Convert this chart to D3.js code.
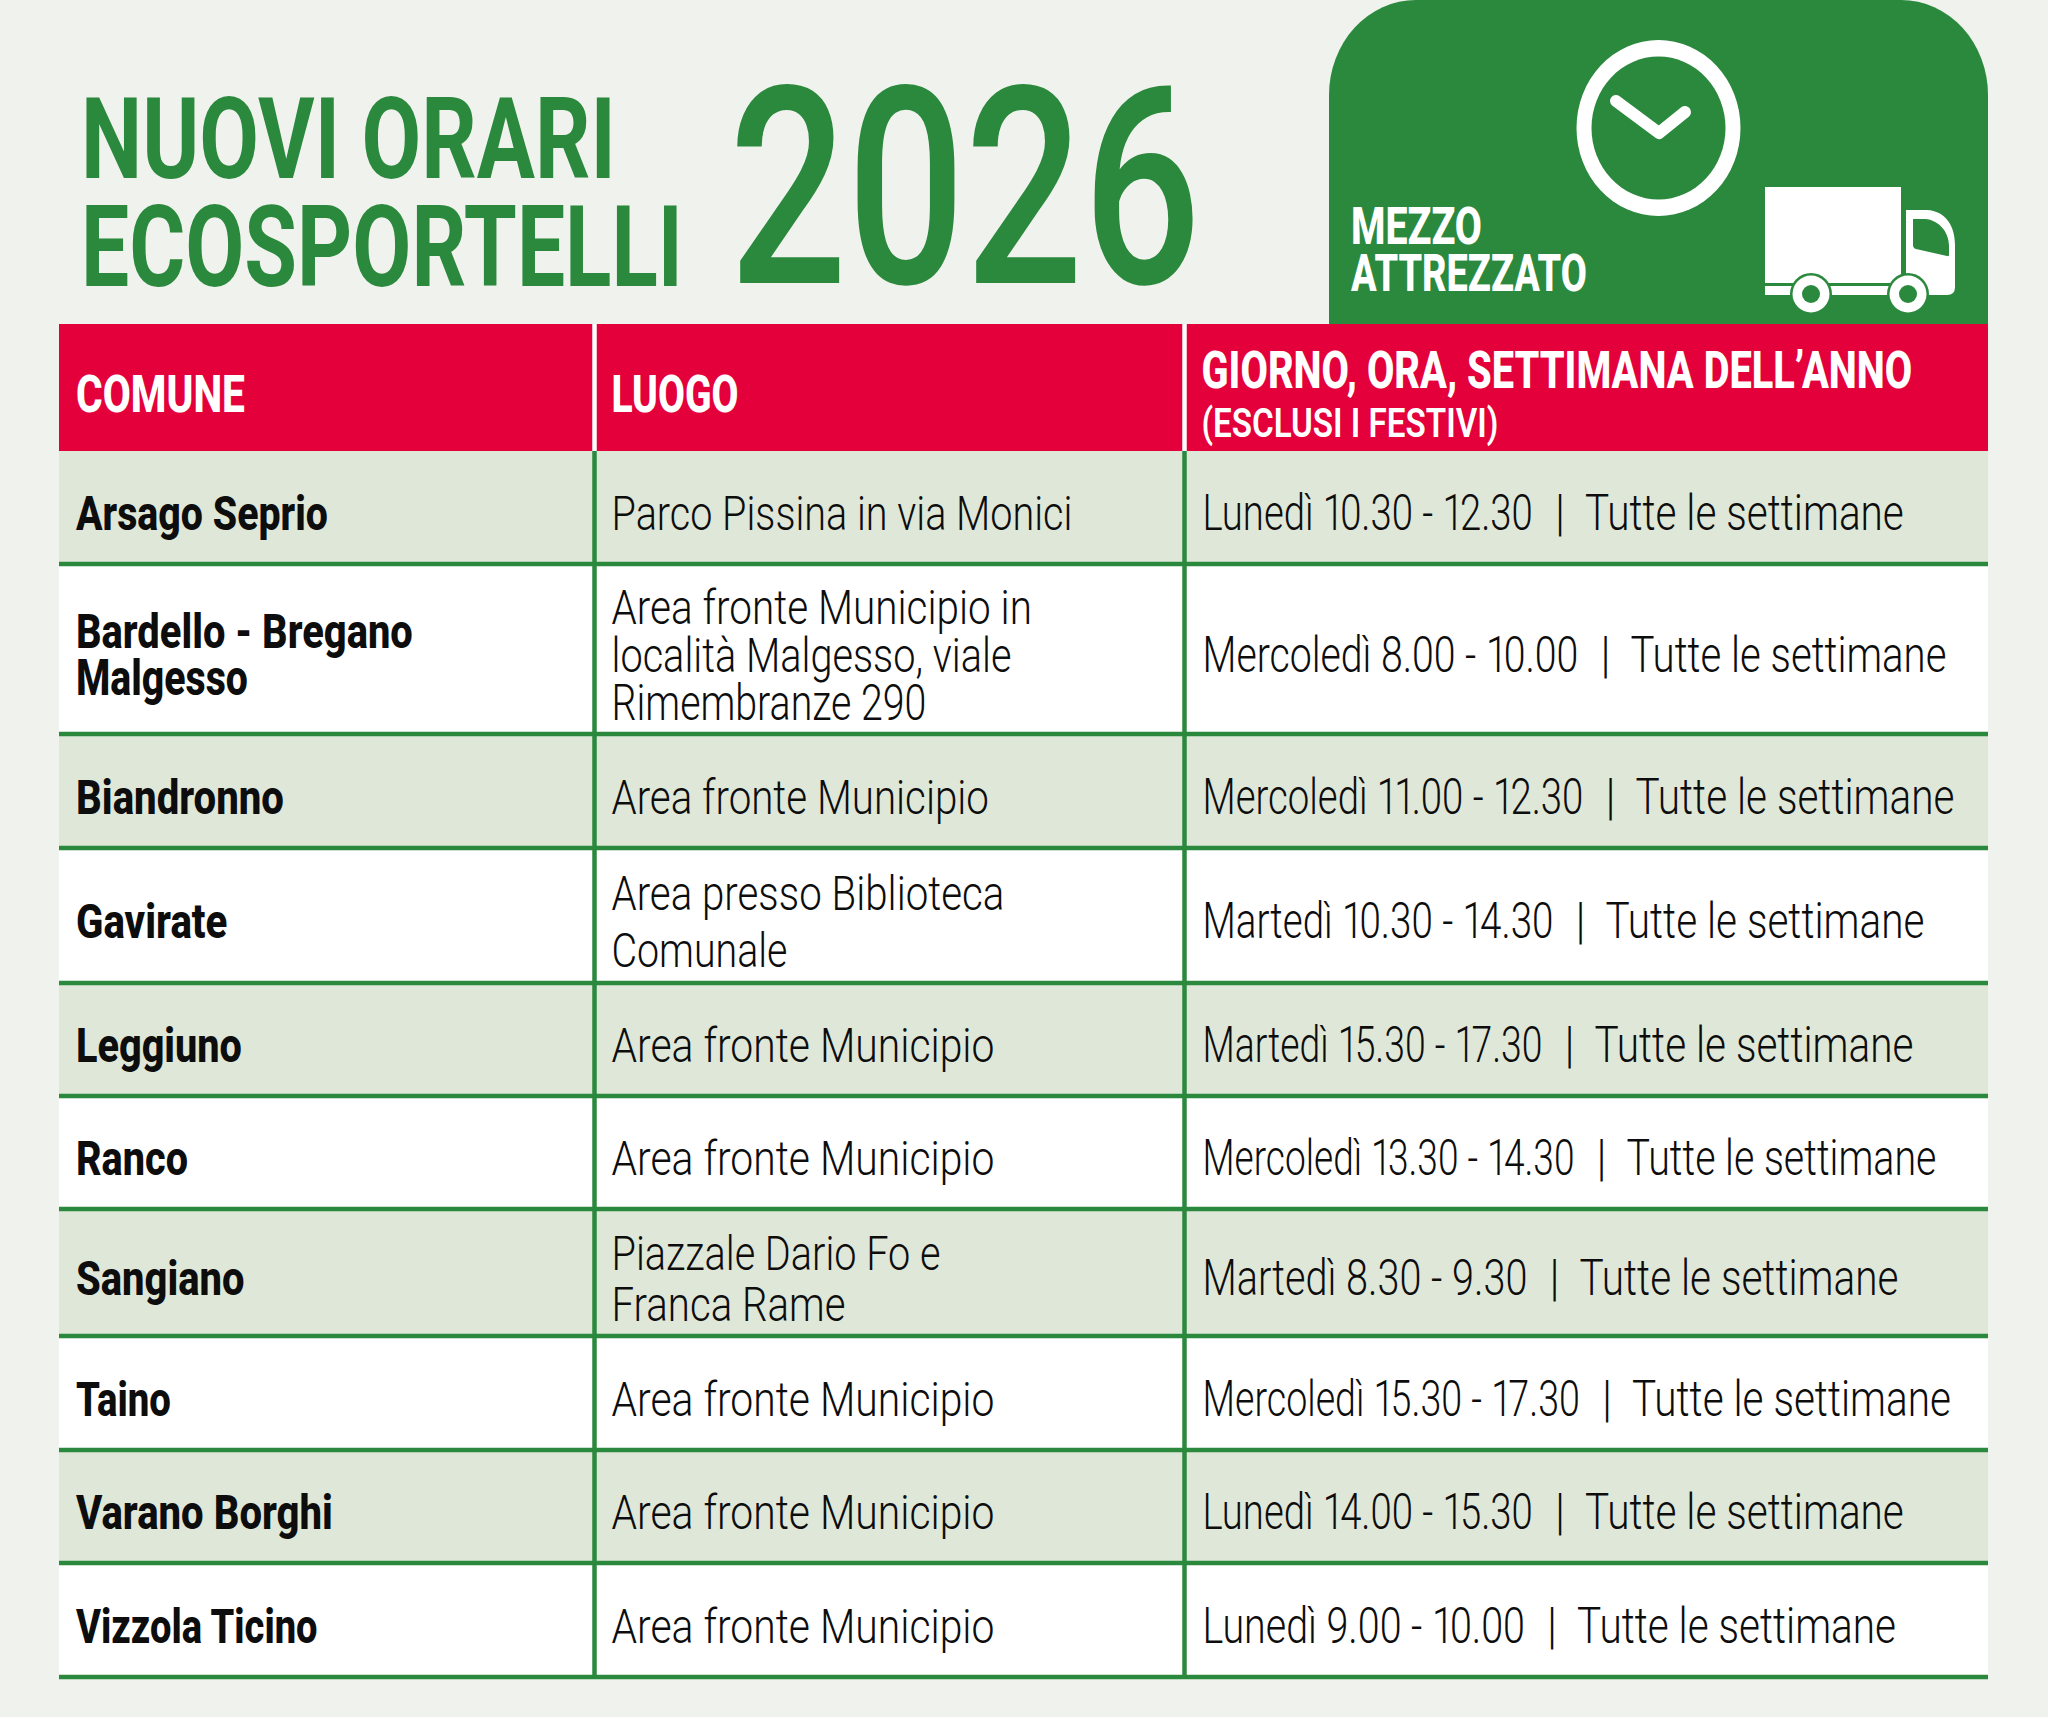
<!DOCTYPE html>
<html lang="it">
<head>
<meta charset="utf-8">
<title>Nuovi orari ecosportelli 2026</title>
<script src="https://cdn.jsdelivr.net/npm/d3@7"></script>
<style>
  html, body { margin: 0; padding: 0; background: #f0f3ed; }
  svg { display: block; }
  text { font-family: Roboto, sans-serif; white-space: pre; }
</style>
</head>
<body>
<svg id="chart"></svg>
<script>
// table content
const columns = ["COMUNE", "LUOGO", "GIORNO, ORA, SETTIMANA DELL’ANNO"];
const columnNote = "(ESCLUSI I FESTIVI)";
const comuni = ["Arsago Seprio", "Bardello - Bregano\nMalgesso", "Biandronno", "Gavirate", "Leggiuno",
    "Ranco", "Sangiano", "Taino", "Varano Borghi", "Vizzola Ticino"];
const luoghi = ["Parco Pissina in via Monici", "Area fronte Municipio in\nlocalità Malgesso, viale\nRimembranze 290",
    "Area fronte Municipio", "Area presso Biblioteca\nComunale", "Area fronte Municipio", "Area fronte Municipio",
    "Piazzale Dario Fo e\nFranca Rame", "Area fronte Municipio", "Area fronte Municipio", "Area fronte Municipio"];
const giorni = ["Lunedì", "Mercoledì", "Mercoledì", "Martedì", "Martedì", "Mercoledì", "Martedì", "Mercoledì", "Lunedì", "Lunedì"];
const ore = ["10.30 - 12.30", "8.00 - 10.00", "11.00 - 12.30", "10.30 - 14.30", "15.30 - 17.30",
    "13.30 - 14.30", "8.30 - 9.30", "15.30 - 17.30", "14.00 - 15.30", "9.00 - 10.00"];
const frequenza = "Tutte le settimane";
const titleLines = ["NUOVI ORARI", "ECOSPORTELLI"];
const year = "2026";
const badgeLines = ["MEZZO", "ATTREZZATO"];

// layout
const width = 2048, height = 1717;
const rowEdges = [451, 564, 734, 848, 983, 1096, 1209, 1336, 1450, 1563, 1677];
const columnEdges = [59, 594.5, 1184.5, 1988];
const luogoLeading = [0, 48, 0, 57, 0, 0, 51, 0, 0, 0];
// measured line widths in px, row by row, because the condensed font of the original has other proportions
const comuneWidths = [[252], [337, 172], [208], [151.5], [166], [112], [168.5], [95], [257], [241.6]];
const luogoWidths = [[461], [420.5, 400, 315], [377.5], [393, 176], [383], [383], [329, 234], [383], [383], [383]];
const orarioWidths = [330.4, 376, 381, 351, 340, 372, 325, 377.5, 330.4, 322.6];
const frequenzaWidths = [319, 316, 319, 319, 319, 310, 319, 319, 319, 319];
const green = "#2b893d", red = "#e4003a", stripe = "#dfe7d8", ink = "#0d0d0d";

const svg = d3.select("#chart").attr("width", width).attr("height", height)
    .attr("viewBox", `0 0 ${width} ${height}`);

const yRow = d3.scaleOrdinal().domain(d3.range(comuni.length)).range(rowEdges.slice(0, -1));
const rowHeight = i => rowEdges[i + 1] - rowEdges[i];
const xCol = d3.scaleOrdinal().domain(d3.range(3)).range(columnEdges.slice(0, 3));
const colPad = 17;

// writes a line, then squeezes it horizontally to the measured width
function put(parent, str, x, y, size, weight, target, fill) {
    const t = parent.append("text")
        .attr("font-size", size).attr("font-weight", weight).attr("fill", fill);
    // the digit 1 is narrow in the original, so pull the next glyph in
    str.split(/(?<=1)/).forEach((part, k) => {
        t.append("tspan").attr("dx", k ? -size * 0.1 : 0).text(part);
    });
    const sx = target / t.node().getBBox().width;
    t.attr("transform", `translate(${x},${y}) scale(${sx},1)`);
    return t;
}

// title
const title = svg.append("g");
[[titleLines[0], 178, 535], [titleLines[1], 286, 602]].forEach(([t, y, w]) => {
    put(title, t, 81, y, 114, 700, w, green);
});
const yearText = title.append("text").attr("font-size", 276).attr("font-weight", 500).attr("fill", green).text(year);
yearText.attr("transform", `translate(729,283) scale(${472 / yearText.node().getComputedTextLength()},1)`);

// green badge
const badge = svg.append("g");
badge.append("path").attr("fill", green)
    .attr("d", "M1329,326V95A87,95 0 0 1 1416,0H1901A87,95 0 0 1 1988,95V326Z");
badge.append("ellipse").attr("cx", 1658.5).attr("cy", 128).attr("rx", 82).attr("ry", 88).attr("fill", "#fff");
badge.append("ellipse").attr("cx", 1658.5).attr("cy", 128).attr("rx", 67).attr("ry", 71.5).attr("fill", green);
badge.append("path").attr("d", "M1616,101L1659,133L1685,112").attr("fill", "none")
    .attr("stroke", "#fff").attr("stroke-width", 12).attr("stroke-linecap", "round").attr("stroke-linejoin", "round");
[[badgeLines[0], 243.5, 131], [badgeLines[1], 291, 236]].forEach(([t, y, w]) => {
    put(badge, t, 1351, y, 51, 800, w, "#fff");
});

// truck
const truck = badge.append("g");
truck.append("rect").attr("x", 1765).attr("y", 187).attr("width", 136).attr("height", 96).attr("fill", "#fff");
truck.append("path").attr("fill", "#fff").attr("d",
    "M1765,286H1906V210H1927C1945,211 1955,225 1955,245V287Q1955,295 1947,295H1765Z");
truck.append("path").attr("fill", green).attr("d",
    "M1913,219H1925C1939,220 1949,232 1949,246V255Q1949,256.5 1947,256L1916,249Q1913,248 1913,245Z");
[1811, 1908].forEach(cx => {
    truck.append("circle").attr("cx", cx).attr("cy", 294).attr("r", 21).attr("fill", green);
    truck.append("circle").attr("cx", cx).attr("cy", 294).attr("r", 18.5).attr("fill", "#fff");
    truck.append("circle").attr("cx", cx).attr("cy", 294).attr("r", 9).attr("fill", green);
});

// header row
const head = svg.append("g");
head.append("rect").attr("x", columnEdges[0]).attr("y", 324)
    .attr("width", columnEdges[3] - columnEdges[0]).attr("height", rowEdges[0] - 324).attr("fill", red);
put(head, columns[0], xCol(0) + colPad, 412, 52, 800, 169, "#fff");
put(head, columns[1], xCol(1) + colPad, 412, 52, 800, 127, "#fff");
put(head, columns[2], xCol(2) + colPad, 387.5, 52, 800, 711, "#fff");
put(head, columnNote, xCol(2) + colPad, 437, 40, 600, 297, "#fff");
head.selectAll("line.sep").data(columnEdges.slice(1, 3)).join("line").attr("class", "sep")
    .attr("x1", d => d).attr("x2", d => d).attr("y1", 324).attr("y2", rowEdges[0])
    .attr("stroke", "#fff").attr("stroke-width", 4.5);

// table rows
const body = svg.append("g");
body.selectAll("rect.row").data(comuni).join("rect").attr("class", "row")
    .attr("x", columnEdges[0]).attr("width", columnEdges[3] - columnEdges[0])
    .attr("y", (d, i) => yRow(i)).attr("height", (d, i) => rowHeight(i))
    .attr("fill", (d, i) => i % 2 ? "#fff" : stripe);

const baseline = i => yRow(i) + rowHeight(i) / 2 + 22.5;

function cell(str, col, i, size, weight, widths, leading) {
    const lines = str.split("\n");
    lines.forEach((l, k) => {
        put(body, l, xCol(col) + colPad, baseline(i) + (k - (lines.length - 1) / 2) * leading,
            size, weight, widths[k], ink);
    });
}
comuni.forEach((d, i) => {
    cell(d, 0, i, 49, 800, comuneWidths[i], 47);
    cell(luoghi[i], 1, i, 49, 300, luogoWidths[i], luogoLeading[i]);

    // day and hours, pipe, frequency: the pipe follows the end of the hours
    const x0 = xCol(2) + 18;
    put(body, `${giorni[i]} ${ore[i]}`, x0, baseline(i), 50, 300, orarioWidths[i], ink);
    put(body, "|", x0 + orarioWidths[i] + 22, baseline(i), 50, 300, 10, ink);
    put(body, frequenza, x0 + orarioWidths[i] + 52, baseline(i), 50, 300, frequenzaWidths[i], ink);
});

// rules
body.selectAll("line.rule").data(rowEdges.slice(1)).join("line").attr("class", "rule")
    .attr("x1", columnEdges[0]).attr("x2", columnEdges[3]).attr("y1", d => d).attr("y2", d => d)
    .attr("stroke", green).attr("stroke-width", 4.5);
body.selectAll("line.col").data(columnEdges.slice(1, 3)).join("line").attr("class", "col")
    .attr("x1", d => d).attr("x2", d => d).attr("y1", rowEdges[0]).attr("y2", rowEdges[rowEdges.length - 1] + 2)
    .attr("stroke", green).attr("stroke-width", 4.5);
</script>
</body>
</html>
